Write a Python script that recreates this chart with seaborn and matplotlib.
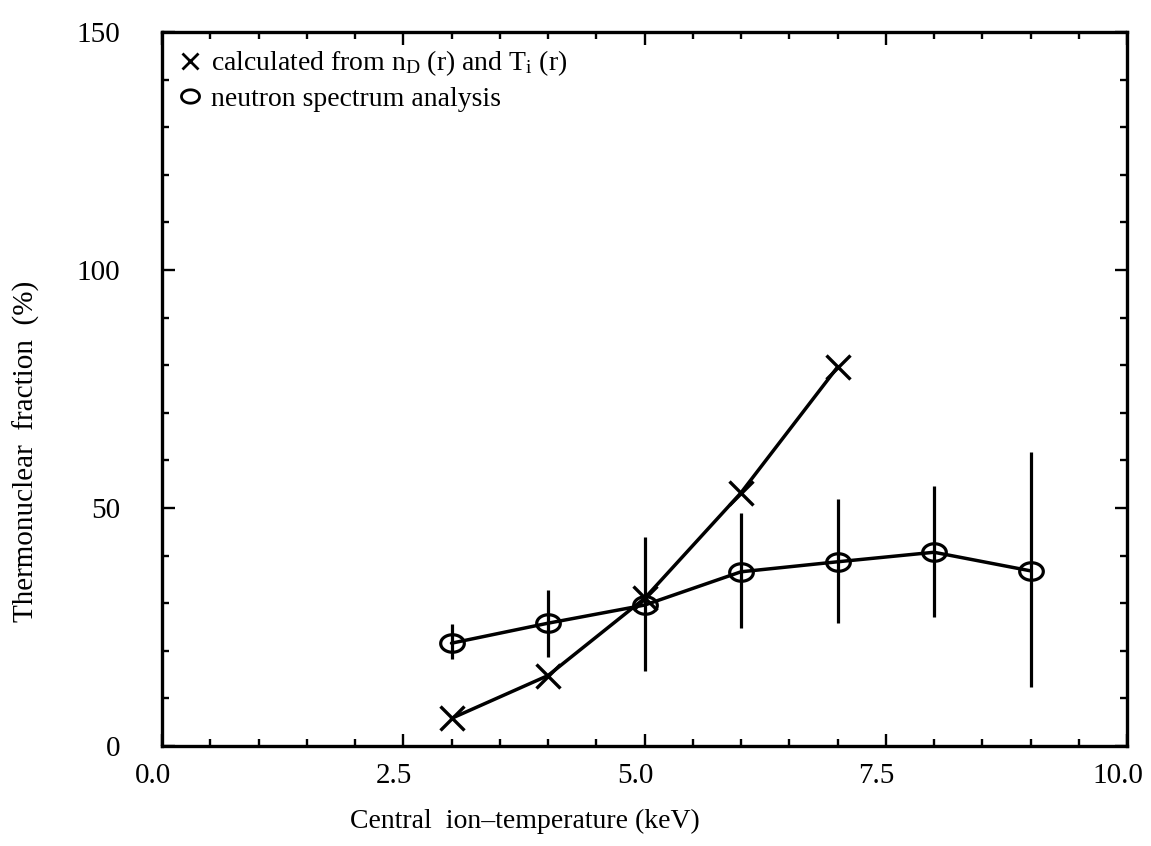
import numpy as np
import pandas as pd
import matplotlib
matplotlib.use("Agg")
import matplotlib.pyplot as plt
import seaborn as sns
from matplotlib.path import Path
from matplotlib.lines import Line2D
from matplotlib.ticker import MultipleLocator, FixedLocator, FixedFormatter
import matplotlib.transforms as mtransforms

# ---- data ----
calc_T = [3, 4, 5, 6, 7]
calc_frac = [5.8, 14.8, 31.0, 53.2, 79.6]

spec_T = [3, 4, 5, 6, 7, 8, 9]
spec_frac = [21.6, 25.8, 29.6, 36.6, 38.7, 40.7, 36.8]
spec_hi = [25.6, 32.7, 43.9, 49.0, 51.9, 54.6, 61.8]
spec_lo = [18.2, 18.6, 15.7, 24.8, 25.8, 27.1, 12.4]

x_ticks = [0.0, 2.5, 5.0, 7.5, 10.0]
x_ticklabels = ["0.0", "2.5", "5.0", "7.5", "10.0"]
y_ticks = [0, 50, 100, 150]
y_ticklabels = ["0", "50", "100", "150"]

label_calc = r"calculated from n$_\mathregular{D}$ (r) and T$_\mathregular{i}$ (r)"
label_spec = "neutron spectrum analysis"
xlabel = "Central  ion\u2013temperature (keV)"
ylabel = "Thermonuclear  fraction  (%)"

sns.set_style("ticks")
plt.rcParams["font.family"] = ["Liberation Serif", "DejaVu Serif"]
plt.rcParams["mathtext.default"] = "regular"
for k in ["text.color", "axes.labelcolor", "xtick.color", "ytick.color",
          "axes.edgecolor"]:
    plt.rcParams[k] = "black"

df_calc = pd.DataFrame({"T": calc_T, "frac": calc_frac})
df_spec = pd.DataFrame({"T": spec_T, "frac": spec_frac})

fig = plt.figure(figsize=(11.51, 8.46), dpi=100)
ax = fig.add_axes([162 / 1151, 100 / 846, 965 / 1151, 714 / 846])

theta = np.linspace(0, 2 * np.pi, 73)
ellipse = Path(np.column_stack([1.35 * np.cos(theta), np.sin(theta)]), closed=True)

# error bars
ax.vlines(spec_T, spec_lo, spec_hi, color="black", lw=2.3, zorder=2)

sns.lineplot(data=df_calc, x="T", y="frac", ax=ax, color="black", lw=2.5,
             marker="x", markersize=17, markeredgewidth=2.4,
             markeredgecolor="black", zorder=3)
sns.lineplot(data=df_spec, x="T", y="frac", ax=ax, color="black", lw=2.5,
             marker=ellipse, markersize=17, markeredgewidth=2.3,
             markerfacecolor="none", markeredgecolor="black", zorder=3)

ax.set_xlim(0, 10)
ax.set_ylim(0, 150)
ax.xaxis.set_major_locator(FixedLocator(x_ticks))
ax.xaxis.set_major_formatter(FixedFormatter(x_ticklabels))
ax.xaxis.set_minor_locator(MultipleLocator(0.5))
ax.yaxis.set_major_locator(FixedLocator(y_ticks))
ax.yaxis.set_major_formatter(FixedFormatter(y_ticklabels))
ax.yaxis.set_minor_locator(MultipleLocator(10))

for s in ax.spines.values():
    s.set_visible(True)
    s.set_linewidth(2.4)
    s.set_color("black")

ax.tick_params(which="both", direction="in", top=True, right=True,
               color="black", labelcolor="black", width=1.7)
ax.tick_params(which="major", length=9)
ax.tick_params(which="minor", length=5)
ax.tick_params(axis="x", which="major", labelsize=21, pad=12)
ax.tick_params(axis="y", which="major", labelsize=21, pad=30)

shift = mtransforms.ScaledTranslation(-9 / 100, 0, fig.dpi_scale_trans)
for lab in ax.get_xticklabels():
    lab.set_transform(lab.get_transform() + shift)

ax.set_xlabel(xlabel, fontsize=20, color="black")
ax.set_ylabel(ylabel, fontsize=21, color="black")
ax.xaxis.set_label_coords((525 - 162) / 965, (746 - 821) / 714)
ax.xaxis.label.set_va("center")
ax.yaxis.set_label_coords((26 - 162) / 965, (746 - 451) / 714)
ax.yaxis.label.set_va("center")

handles = [
    Line2D([], [], ls="none", marker="x", color="black", markersize=12, markeredgewidth=2.0),
    Line2D([], [], ls="none", marker=ellipse, color="black", markersize=13,
           markeredgewidth=2.0, markerfacecolor="none"),
]
leg = ax.legend(handles, [label_calc, label_spec], loc="upper left", frameon=False,
                fontsize=20, handlelength=0.8, handletextpad=0.35, borderaxespad=0.3,
                borderpad=0.3, labelspacing=0.3)
for t in leg.get_texts():
    t.set_color("black")

fig.savefig("out.png", dpi=100)
